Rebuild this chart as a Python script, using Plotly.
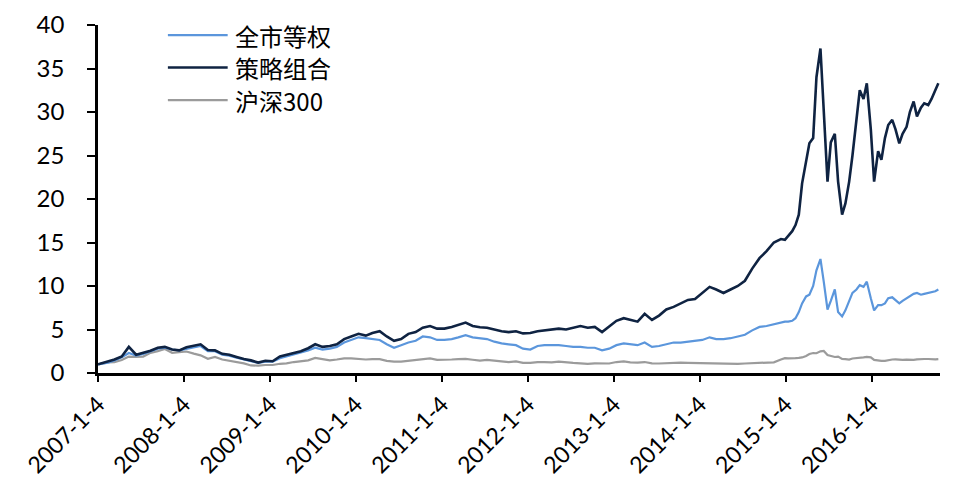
import plotly.graph_objects as go

# ---------------- data ----------------
# monthly points 2007-2014 (mid-month; first point is the base date 2007-01-04)
monthly_dates = ["2007-01-04"] + [f"{y}-{m:02d}-15" for y in range(2007, 2015) for m in range(1, 13)][1:]
# semi-monthly points 2015-01 .. 2016-10
semi_dates = [f"{y}-{m:02d}-{d:02d}" for y in (2015, 2016) for m in range(1, 13) for d in (1, 15)
              if (y, m) <= (2016, 10)]
semi_dates[-1] = "2016-10-14"
dates = monthly_dates + semi_dates

series_names = ["全市等权", "策略组合", "沪深300"]

equal_weight = [
    1.0, 1.2, 1.45, 1.8, 2.3, 2.0, 2.2, 2.5, 2.8, 2.9, 2.7, 2.6,          # 2007
    2.8, 3.0, 3.1, 2.5, 2.5, 2.1, 2.0, 1.75, 1.55, 1.35, 1.15, 1.3,      # 2008
    1.3, 1.7, 1.9, 2.1, 2.3, 2.6, 2.9, 2.7, 2.8, 3.0, 3.5, 3.8,          # 2009
    4.1, 4.0, 3.9, 3.8, 3.3, 2.9, 3.2, 3.5, 3.7, 4.2, 4.1, 3.8,          # 2010
    3.8, 3.9, 4.1, 4.35, 4.1, 4.0, 3.9, 3.6, 3.4, 3.3, 3.2, 2.8,         # 2011
    2.7, 3.1, 3.2, 3.2, 3.2, 3.1, 3.0, 3.0, 2.9, 2.9, 2.6, 2.8,          # 2012
    3.2, 3.4, 3.3, 3.2, 3.5, 3.0, 3.1, 3.3, 3.5, 3.5, 3.6, 3.7,          # 2013
    3.8, 4.1, 3.9, 3.9, 4.0, 4.2, 4.4, 4.9, 5.3, 5.4, 5.6, 5.8,          # 2014
    5.9, 5.9, 6.0, 6.3, 7.0, 8.0, 8.8, 9.0, 10.0, 11.8, 13.1, 10.5,      # 2015 H1
    7.3, 8.3, 9.6, 7.0, 6.5, 7.2, 8.4, 9.2, 9.6, 10.1, 9.9, 10.5,        # 2015 H2
    8.6, 7.2, 7.8, 7.8, 8.0, 8.6, 8.7, 8.4, 8.0, 8.3,                    # 2016
    8.6, 8.8, 9.1, 9.2, 9.0, 9.1, 9.2, 9.3, 9.4, 9.6,
]

strategy = [
    1.0, 1.3, 1.55, 1.9, 3.0, 2.1, 2.3, 2.55, 2.9, 3.0, 2.7, 2.6,        # 2007
    2.95, 3.1, 3.3, 2.65, 2.6, 2.2, 2.1, 1.85, 1.6, 1.45, 1.2, 1.4,      # 2008
    1.35, 1.9, 2.1, 2.3, 2.5, 2.85, 3.3, 3.0, 3.1, 3.3, 3.9, 4.2,        # 2009
    4.5, 4.3, 4.6, 4.8, 4.2, 3.7, 3.9, 4.5, 4.7, 5.2, 5.4, 5.1,          # 2010
    5.1, 5.3, 5.5, 5.8, 5.4, 5.25, 5.2, 5.0, 4.8, 4.7, 4.8, 4.55,        # 2011
    4.6, 4.8, 4.9, 5.0, 5.1, 5.0, 5.2, 5.4, 5.2, 5.3, 4.7, 5.3,          # 2012
    6.0, 6.3, 6.1, 5.9, 6.8, 6.1, 6.6, 7.3, 7.6, 8.0, 8.4, 8.5,          # 2013
    9.2, 9.9, 9.6, 9.2, 9.6, 10.0, 10.6, 12.0, 13.2, 14.0, 15.0, 15.4,   # 2014
    15.3, 15.8, 16.3, 17.0, 18.2, 21.8, 24.5, 26.4, 27.0, 34.0, 37.3, 30.0,  # 2015 H1
    22.0, 26.5, 27.5, 22.0, 18.2, 19.5, 22.0, 25.0, 29.0, 32.5, 31.5, 33.3,  # 2015 H2
    28.0, 22.0, 25.5, 24.5, 27.0, 28.5, 29.1, 28.0, 26.4, 27.5,          # 2016
    28.3, 30.0, 31.2, 29.5, 30.5, 31.0, 30.8, 31.5, 32.5, 33.3,
]

hs300 = [
    1.0, 1.21, 1.26, 1.50, 1.89, 1.84, 1.89, 2.32, 2.52, 2.76, 2.32, 2.37,   # 2007
    2.47, 2.23, 2.03, 1.64, 1.84, 1.55, 1.40, 1.21, 1.11, 0.87, 0.85, 0.92,  # 2008
    0.92, 1.06, 1.11, 1.26, 1.35, 1.45, 1.74, 1.60, 1.45, 1.55, 1.69, 1.69,  # 2009
    1.64, 1.55, 1.60, 1.60, 1.40, 1.31, 1.31, 1.40, 1.43, 1.60, 1.67, 1.52,  # 2010
    1.50, 1.55, 1.60, 1.62, 1.52, 1.43, 1.50, 1.43, 1.31, 1.26, 1.33, 1.16,  # 2011
    1.16, 1.26, 1.26, 1.23, 1.31, 1.21, 1.16, 1.11, 1.06, 1.11, 1.06, 1.09,  # 2012
    1.26, 1.33, 1.23, 1.19, 1.26, 1.11, 1.09, 1.14, 1.19, 1.19, 1.16, 1.14,  # 2013
    1.09, 1.09, 1.02, 1.06, 1.04, 1.04, 1.09, 1.14, 1.16, 1.19, 1.23, 1.55,  # 2014
    1.71, 1.69, 1.66, 1.70, 1.73, 1.79, 1.96, 2.18, 2.30, 2.27, 2.49, 2.54,  # 2015 H1
    2.06, 1.94, 1.84, 1.89, 1.62, 1.60, 1.55, 1.67, 1.69, 1.79, 1.80, 1.85,  # 2015 H2
    1.80, 1.50, 1.43, 1.40, 1.40, 1.50, 1.55, 1.57, 1.52, 1.50,              # 2016
    1.53, 1.51, 1.52, 1.57, 1.55, 1.61, 1.61, 1.56, 1.57, 1.60,
]

tick_dates = [f"{y}-01-04" for y in range(2007, 2017)]
tick_labels = [f"{y}-1-4" for y in range(2007, 2017)]
y_ticks = [0, 5, 10, 15, 20, 25, 30, 35, 40]

# ---------------- styling ----------------
colors = {"全市等权": "#5B96DC", "策略组合": "#0F2342", "沪深300": "#9B9B9B"}
widths = {"全市等权": 2.2, "策略组合": 2.6, "沪深300": 2.2}
values = {"全市等权": equal_weight, "策略组合": strategy, "沪深300": hs300}

fig = go.Figure()
for name in ["沪深300", "全市等权", "策略组合"]:
    fig.add_trace(go.Scatter(x=dates, y=values[name], mode="lines", name=name,
                             line=dict(color=colors[name], width=widths[name]),
                             showlegend=False))

# manual legend (top-left, inside plot)
legend_rows = [0.971, 0.878, 0.784]
for name, yy in zip(series_names, legend_rows):
    fig.add_shape(type="line", xref="paper", yref="paper", x0=0.083, x1=0.154, y0=yy, y1=yy,
                  line=dict(color=colors[name], width=widths[name]))
    fig.add_annotation(xref="paper", yref="paper", x=0.160, y=yy, text=name, showarrow=False,
                       xanchor="left", yanchor="middle",
                       font=dict(family="Noto Sans CJK SC", size=24, color="#000000"))

y_font = dict(family="Lato, Carlito, Calibri, sans-serif", size=24, color="#000000")
x_font = dict(family="Lato, Carlito, Calibri, sans-serif", size=23, color="#000000")

fig.update_layout(
    width=954, height=492,
    margin=dict(l=98, r=14, t=25, b=119),
    paper_bgcolor="white", plot_bgcolor="white",
    xaxis=dict(type="date", range=["2007-01-04", "2016-10-21"], automargin=False,
               tickvals=tick_dates, ticktext=tick_labels, tickangle=-45,
               ticks="outside", ticklen=6, tickwidth=2, tickcolor="black",
               showline=True, linewidth=2.5, linecolor="black",
               showgrid=False, zeroline=False, tickfont=x_font),
    yaxis=dict(range=[0, 40], tickvals=y_ticks, ticks="outside", ticklen=8, tickwidth=2,
               tickcolor="black", showline=True, linewidth=2.5, linecolor="black",
               automargin=False, showgrid=False, zeroline=False, tickfont=y_font,
               ticklabelstandoff=18),
)

fig.write_html("out.html", config={"displayModeBar": False},
               post_script="document.body.style.margin='0';document.body.style.overflow='hidden';")
